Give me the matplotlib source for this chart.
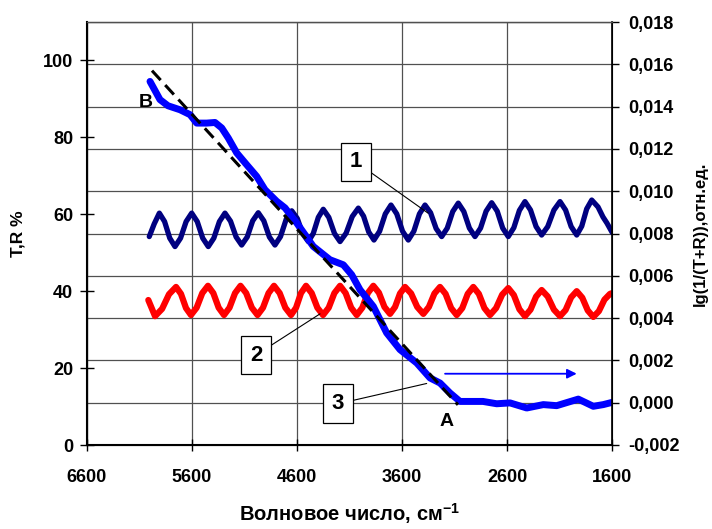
import matplotlib
matplotlib.use("Agg")
import matplotlib.pyplot as plt
from matplotlib.ticker import MultipleLocator, FuncFormatter

plt.rcParams["font.family"] = ["Liberation Sans", "DejaVu Sans"]
plt.rcParams["font.weight"] = "bold"
plt.rcParams["axes.labelweight"] = "bold"
plt.rcParams["mathtext.fontset"] = "custom"
plt.rcParams["mathtext.rm"] = "Liberation Sans:bold"
plt.rcParams["mathtext.default"] = "rm"

# curve 1 (T, %), left axis
t_wn = [6007, 5960, 5911, 5861, 5812, 5762, 5709, 5656, 5603, 5550, 5498, 5445,
        5392, 5339, 5286, 5233, 5180, 5127, 5074, 5022, 4969, 4916, 4863, 4810,
        4757, 4703, 4650, 4597, 4545, 4492, 4445, 4397, 4350, 4297, 4243, 4190,
        4132, 4074, 4016, 3966, 3917, 3867, 3813, 3759, 3705, 3650, 3595, 3540,
        3487, 3434, 3381, 3328, 3275, 3222, 3169, 3117, 3064, 3011, 2958, 2905,
        2852, 2799, 2746, 2693, 2641, 2588, 2535, 2482, 2429, 2376, 2323, 2270,
        2212, 2153, 2095, 2042, 1989, 1936, 1888, 1841, 1793, 1733, 1686, 1648, 1597]
t_val = [54.2, 57.5, 60.3, 58.1, 53.8, 51.6, 53.8, 58.1, 60.3, 58.1, 53.8, 51.6,
         53.8, 58.1, 60.3, 58.2, 54.1, 52.0, 54.1, 58.3, 60.4, 58.3, 54.1, 52.0,
         54.2, 58.7, 60.9, 58.9, 54.9, 52.9, 55.0, 59.2, 61.3, 59.2, 55.0, 52.9,
         55.1, 59.4, 61.6, 59.5, 55.4, 53.3, 55.6, 60.1, 62.4, 60.1, 55.6, 53.3,
         55.6, 60.1, 62.4, 60.4, 56.3, 54.2, 56.4, 60.7, 62.9, 60.7, 56.4, 54.2,
         56.4, 60.8, 63.0, 60.8, 56.4, 54.2, 56.5, 61.0, 63.3, 61.1, 56.8, 54.6,
         56.8, 61.1, 63.3, 61.1, 56.8, 54.6, 56.9, 61.4, 63.7, 61.9, 59.3, 57.7, 55.2]

# curve 2 (R, %), left axis
r_wn = [6016, 5952, 5885, 5819, 5752, 5705, 5657, 5610, 5556, 5502, 5448, 5397,
        5346, 5295, 5243, 5190, 5138, 5084, 5030, 4976, 4924, 4871, 4819, 4765,
        4711, 4657, 4609, 4562, 4514, 4460, 4406, 4352, 4298, 4244, 4190, 4137,
        4084, 4031, 3978, 3926, 3873, 3820, 3767, 3714, 3666, 3619, 3571, 3513,
        3455, 3397, 3344, 3291, 3238, 3185, 3132, 3079, 3026, 2974, 2921, 2868,
        2815, 2762, 2704, 2646, 2588, 2535, 2482, 2429, 2376, 2323, 2270, 2212,
        2153, 2095, 2042, 1989, 1936, 1883, 1831, 1778, 1725, 1672, 1619, 1597]
r_val = [37.7, 33.5, 35.4, 39.2, 41.1, 39.3, 35.6, 33.8, 35.7, 39.5, 41.4, 39.5,
         35.7, 33.8, 35.7, 39.5, 41.4, 39.5, 35.7, 33.8, 35.7, 39.5, 41.4, 39.5,
         35.7, 33.8, 35.7, 39.5, 41.4, 39.5, 35.7, 33.8, 35.7, 39.5, 41.4, 39.5,
         35.7, 33.8, 35.7, 39.5, 41.4, 39.6, 35.9, 34.1, 35.9, 39.4, 41.1, 39.4,
         35.9, 34.1, 35.9, 39.4, 41.1, 39.3, 35.6, 33.8, 35.6, 39.3, 41.1, 39.3,
         35.6, 33.8, 35.6, 39.1, 40.8, 39.0, 35.3, 33.5, 35.2, 38.6, 40.3, 38.6,
         35.2, 33.5, 35.1, 38.4, 40.0, 38.3, 35.0, 33.3, 34.8, 37.8, 39.3, 39.5]

# curve 3: lg(1/(T+R)), right axis
a_wn = [6000, 5905, 5829, 5714, 5619, 5555, 5460, 5381, 5317, 5254, 5174, 5079, 4984, 4905,
        4793, 4714, 4603, 4445, 4286, 4159, 4079, 4000, 3873, 3746, 3619, 3460, 3333, 3238,
        3143, 3048, 2952, 2829, 2698, 2571, 2412, 2254, 2127, 1921, 1778, 1683, 1588]
a_val = [0.01519, 0.01433, 0.01404, 0.01385, 0.01362, 0.01322, 0.01322, 0.01325, 0.01299,
         0.01251, 0.01181, 0.01125, 0.01070, 0.01007, 0.00952, 0.00921, 0.00850, 0.00739,
         0.00676, 0.00652, 0.00605, 0.00534, 0.00455, 0.00330, 0.00251, 0.00188, 0.00117,
         0.00093, 0.00046, 0.00006, 0.00006, 0.00006, -0.00005, -0.00001, -0.00025, -0.00009,
         -0.00014, 0.00017, -0.00017, -0.00009, 0.00003]

# straight line B-A
fit_wn = [5981, 3067]
fit_val = [0.0157, -0.0001]

x_ticks = [6600, 5600, 4600, 3600, 2600, 1600]
left_ticks = [0, 20, 40, 60, 80, 100]

fig = plt.figure(figsize=(7.12, 5.29), dpi=100)
ax = fig.add_axes([87 / 712, 1 - 445 / 529, 525 / 712, 423 / 529])
ax2 = ax.twinx()

ax.plot(t_wn, t_val, color="#000080", lw=3.8, solid_joinstyle="round", solid_capstyle="round")
ax.plot(r_wn, r_val, color="#ff0000", lw=4.5, solid_joinstyle="round", solid_capstyle="round")
ax2.plot(a_wn, a_val, color="#0000ff", lw=5, solid_joinstyle="round", solid_capstyle="round")
ax2.plot(fit_wn, fit_val, color="black", lw=2.2, dashes=(4.2, 2.2))

ax.set_xlim(6600, 1600)
ax.set_xticks(x_ticks)
ax.set_ylim(0, 110)
ax.set_yticks(left_ticks)
# horizontal grid follows the right-axis ticks (every 0.002 -> every 11 %)
ax.yaxis.set_minor_locator(MultipleLocator(11))
ax.grid(True, which="minor", axis="y", color="#505050", lw=0.9)
ax.grid(True, which="major", axis="x", color="#505050", lw=0.9)
ax.tick_params(which="minor", length=0)
ax.tick_params(axis="y", which="major", direction="inout", length=10, width=1, labelsize=13, pad=5)
ax.tick_params(axis="x", which="major", direction="inout", length=9, width=1, labelsize=13, pad=13)

ax2.set_ylim(-0.002, 0.018)
ax2.yaxis.set_major_locator(MultipleLocator(0.002))
ax2.yaxis.set_major_formatter(FuncFormatter(lambda v, p: f"{v:.3f}".replace(".", ",")))
ax2.tick_params(axis="y", direction="out", length=5, width=1, labelsize=13, pad=7)

for a in (ax, ax2):
    a.spines["top"].set_color("#505050")
    a.spines["top"].set_linewidth(0.9)
ax.spines["left"].set_linewidth(1.5)
ax.spines["bottom"].set_linewidth(1.5)
ax2.spines["right"].set_linewidth(1.2)

ax.set_xlabel("Волновое число, см$^{-1}$", fontsize=14.5)
ax.xaxis.set_label_coords(0.5, -0.132)
ax.set_ylabel("T,R %", fontsize=12.5)
ax.yaxis.set_label_coords(-0.118, 0.5)
ax2.set_ylabel("lg(1/(T+R)),отн.ед.", fontsize=12)
ax2.yaxis.set_label_coords(1.154, 0.5)

ax.text(6043, 89.1, "B", fontsize=14, fontweight="bold", ha="center", va="center")
ax.text(3171, 6.1, "A", fontsize=14, fontweight="bold", ha="center", va="center")

box = dict(boxstyle="square,pad=0.4", fc="white", ec="black", lw=0.9)
line = dict(arrowstyle="-", color="black", lw=0.8, shrinkA=0, shrinkB=0)
for num, end, pos in [("1", (3352, 60.3), (4038, 73.6)),
                      ("2", (4381, 34.1), (4990, 23.4)),
                      ("3", (3365, 16.0), (4210, 10.7))]:
    ax.annotate(num, xy=end, xytext=pos, fontsize=16, fontweight="bold",
                ha="center", va="center", bbox=box, arrowprops=line)

ax2.annotate("", xy=(1936, 0.00137), xytext=(3190, 0.00137),
             arrowprops=dict(arrowstyle="-|>", color="#0000ff", lw=1.3, mutation_scale=14,
                             shrinkA=0, shrinkB=0))

fig.savefig("out.png", dpi=100)
